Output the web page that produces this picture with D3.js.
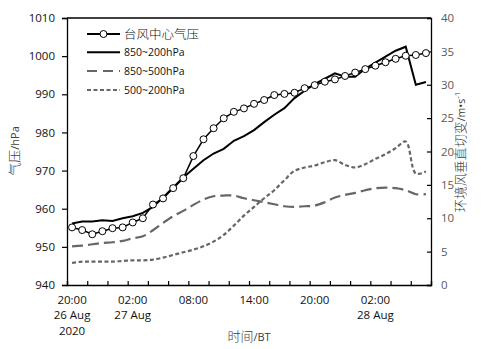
<!DOCTYPE html>
<html>
<head>
<meta charset="utf-8">
<script src="https://cdn.jsdelivr.net/npm/d3@7"></script>
<style>
  html, body { margin: 0; padding: 0; background: #fff; }
  svg { display: block; }
  text { font-family: "Open Sans", "Liberation Sans", Arial, sans-serif; }
  .cjk { font-family: "Noto Sans CJK SC", "Open Sans", sans-serif; font-weight: 300; }
</style>
</head>
<body>
<svg id="chart" width="492" height="349"></svg>
<script>
// Hourly samples from 20:00 26 Aug 2020 (36 hours)
const hours = d3.range(36);

// Typhoon central pressure (hPa), left axis
const centralPressure = [955.1, 954.4, 953.3, 954.1, 954.9, 955.1, 956.4, 957.5, 961.1, 962.7, 965.4, 968.0,
  973.8, 978.2, 981.1, 983.7, 985.4, 986.3, 987.5, 988.5, 989.8, 990.1, 990.4, 991.6,
  992.4, 993.3, 993.9, 994.8, 995.7, 996.6, 997.5, 998.4, 999.3, 1000.1, 1000.3, 1000.8];

// Environmental vertical wind shear (m/s), right axis
const shear850to200 = [9.2, 9.5, 9.5, 9.7, 9.6, 10.0, 10.3, 10.8, 11.7, 13.1, 14.6, 16.1,
  17.4, 18.7, 19.7, 20.4, 21.6, 22.3, 23.2, 24.4, 25.5, 26.5, 28.0, 29.1,
  30.1, 30.9, 31.7, 31.2, 31.2, 32.4, 33.3, 34.2, 35.1, 35.7, 30.0, 30.4];
const shear850to500 = [5.8, 5.9, 6.1, 6.3, 6.4, 6.6, 7.0, 7.3, 8.2, 9.3, 10.3, 11.1,
  12.0, 12.8, 13.3, 13.4, 13.4, 13.0, 12.7, 12.4, 12.1, 11.8, 11.7, 11.8,
  11.9, 12.4, 13.1, 13.5, 13.8, 14.2, 14.5, 14.6, 14.5, 14.2, 13.6, 13.6];
const shear500to200 = [3.3, 3.5, 3.5, 3.5, 3.5, 3.6, 3.7, 3.7, 3.8, 4.1, 4.5, 4.9,
  5.3, 5.8, 6.5, 7.5, 8.9, 10.4, 11.7, 13.0, 14.2, 15.7, 17.1, 17.6,
  17.9, 18.4, 18.7, 18.0, 17.6, 18.1, 18.9, 19.6, 20.5, 21.5, 16.7, 17.0];

// Axis ticks and labels
const pressureTicks = d3.range(940, 1011, 10);
const shearTicks = d3.range(0, 41, 5);
const timeLabels = ["20:00", "02:00", "08:00", "14:00", "20:00", "02:00"];
const dateLabels = ["26 Aug", "27 Aug", "", "", "", "28 Aug"];
const yearLabel = "2020";
const legendLabels = ["台风中心气压", "850~200hPa", "850~500hPa", "500~200hPa"];

const svg = d3.select("#chart");
const plotLeft = 67, plotRight = 431, plotTop = 18, plotBottom = 285;

const x = d3.scaleLinear().domain([0, 36]).range([plotLeft, plotRight]);
const yP = d3.scaleLinear().domain([940, 1010]).range([plotBottom, plotTop]);
const yS = d3.scaleLinear().domain([0, 40]).range([plotBottom, plotTop]);
const xc = i => x(i + 0.5);

const grey = "#666666";

// Frame top line
svg.append("line").attr("x1", plotLeft).attr("x2", plotRight).attr("y1", plotTop).attr("y2", plotTop)
  .attr("stroke", "#000").attr("stroke-width", 1.3);

// Left axis
const axL = svg.append("g").attr("transform", `translate(${plotLeft},0)`)
  .call(d3.axisLeft(yP).tickValues(pressureTicks).tickSize(5).tickPadding(7).tickFormat(d3.format("d")));
axL.selectAll("text").attr("font-size", "11.5px").attr("fill", "#111");

// Right axis (ticks pointing inward)
const axR = svg.append("g").attr("transform", `translate(${plotRight},0)`)
  .call(d3.axisRight(yS).tickValues(shearTicks).tickSize(-4).tickPadding(10).tickFormat(d3.format("d")));
axR.selectAll("text").attr("font-size", "11.5px").attr("fill", "#595959");

// Bottom axis: inward ticks every 2 hours, labels drawn separately
const axB = svg.append("g").attr("transform", `translate(0,${plotBottom})`)
  .call(d3.axisBottom(x).tickValues(d3.range(0, 37, 2)).tickSize(-4).tickFormat(""));

[axL, axR, axB].forEach(a => {
  a.select(".domain").attr("stroke", "#000").attr("stroke-width", 1.3);
  a.selectAll(".tick line").attr("stroke", "#000").attr("stroke-width", 1.2);
});

// Time labels centred on the first hour of every 6-hour block
timeLabels.forEach((t, k) => {
  const cx = x(k * 6 + 0.5);
  svg.append("text").attr("x", cx).attr("y", 303.5).attr("text-anchor", "middle")
    .attr("font-size", "11.5px").attr("fill", "#111").text(t);
  if (dateLabels[k]) {
    svg.append("text").attr("x", cx).attr("y", 319).attr("text-anchor", "middle")
      .attr("font-size", "11.5px").attr("fill", "#111").text(dateLabels[k]);
  }
});
svg.append("text").attr("x", x(0.5)).attr("y", 335).attr("text-anchor", "middle")
  .attr("font-size", "11.5px").attr("fill", "#111").text(yearLabel);

// Axis titles
const tX = svg.append("text").attr("x", 249).attr("y", 341).attr("text-anchor", "middle")
  .attr("fill", "#404040");
tX.append("tspan").attr("class", "cjk").attr("font-size", "13px").text("时间");
tX.append("tspan").attr("font-size", "11px").text("/BT");

const tL = svg.append("text").attr("transform", "translate(19,151) rotate(-90)")
  .attr("text-anchor", "middle").attr("fill", "#404040");
tL.append("tspan").attr("class", "cjk").attr("font-size", "13px").text("气压");
tL.append("tspan").attr("font-size", "11px").text("/hPa");

const tR = svg.append("text").attr("transform", "translate(465,152) rotate(-90)")
  .attr("text-anchor", "middle").attr("fill", "#404040");
tR.append("tspan").attr("class", "cjk").attr("font-size", "13px").text("环境风垂直切变");
tR.append("tspan").attr("font-size", "10.5px").text("/m•s");
tR.append("tspan").attr("font-size", "8px").attr("dy", "-5").text("-1");

// Series lines
const linePressure = d3.line().x((d, i) => xc(i)).y(d => yP(d));
const lineShear = d3.line().x((d, i) => xc(i)).y(d => yS(d));
const smoothShear = d3.line().x((d, i) => xc(i)).y(d => yS(d)).curve(d3.curveCatmullRom.alpha(0.5));

svg.append("path").datum(shear500to200).attr("d", smoothShear)
  .attr("fill", "none").attr("stroke", grey).attr("stroke-width", 2.2).attr("stroke-dasharray", "4,2.5");
svg.append("path").datum(shear850to500).attr("d", smoothShear)
  .attr("fill", "none").attr("stroke", grey).attr("stroke-width", 2.2).attr("stroke-dasharray", "11,5");
svg.append("path").datum(shear850to200).attr("d", lineShear)
  .attr("fill", "none").attr("stroke", "#000").attr("stroke-width", 2);

svg.append("path").datum(centralPressure).attr("d", linePressure)
  .attr("fill", "none").attr("stroke", "#000").attr("stroke-width", 1.5);
svg.append("g").selectAll("circle").data(centralPressure).join("circle")
  .attr("cx", (d, i) => xc(i)).attr("cy", d => yP(d)).attr("r", 3.5)
  .attr("fill", "#fff").attr("stroke", "#000").attr("stroke-width", 1);

// Legend
const legendRows = [34, 52.3, 71, 90];
const legendStyles = [
  { stroke: "#000", width: 1.8, dash: null, marker: true },
  { stroke: "#000", width: 2, dash: null, marker: false },
  { stroke: grey, width: 2.2, dash: "10,6", marker: false },
  { stroke: grey, width: 2, dash: "4,2.5", marker: false }
];
const lg = svg.append("g");
legendLabels.forEach((lab, k) => {
  const yy = legendRows[k], s = legendStyles[k];
  lg.append("line").attr("x1", 87).attr("x2", 120).attr("y1", yy).attr("y2", yy)
    .attr("stroke", s.stroke).attr("stroke-width", s.width).attr("stroke-dasharray", s.dash);
  if (s.marker) {
    lg.append("circle").attr("cx", 103.5).attr("cy", yy).attr("r", 3.5)
      .attr("fill", "#fff").attr("stroke", "#000").attr("stroke-width", 1);
  }
  lg.append("text").attr("x", 124).attr("y", yy).attr("dy", "0.36em")
    .attr("class", k === 0 ? "cjk" : null)
    .attr("font-size", k === 0 ? "12.5px" : "10.5px").attr("fill", "#111").text(lab);
});
</script>
</body>
</html>
